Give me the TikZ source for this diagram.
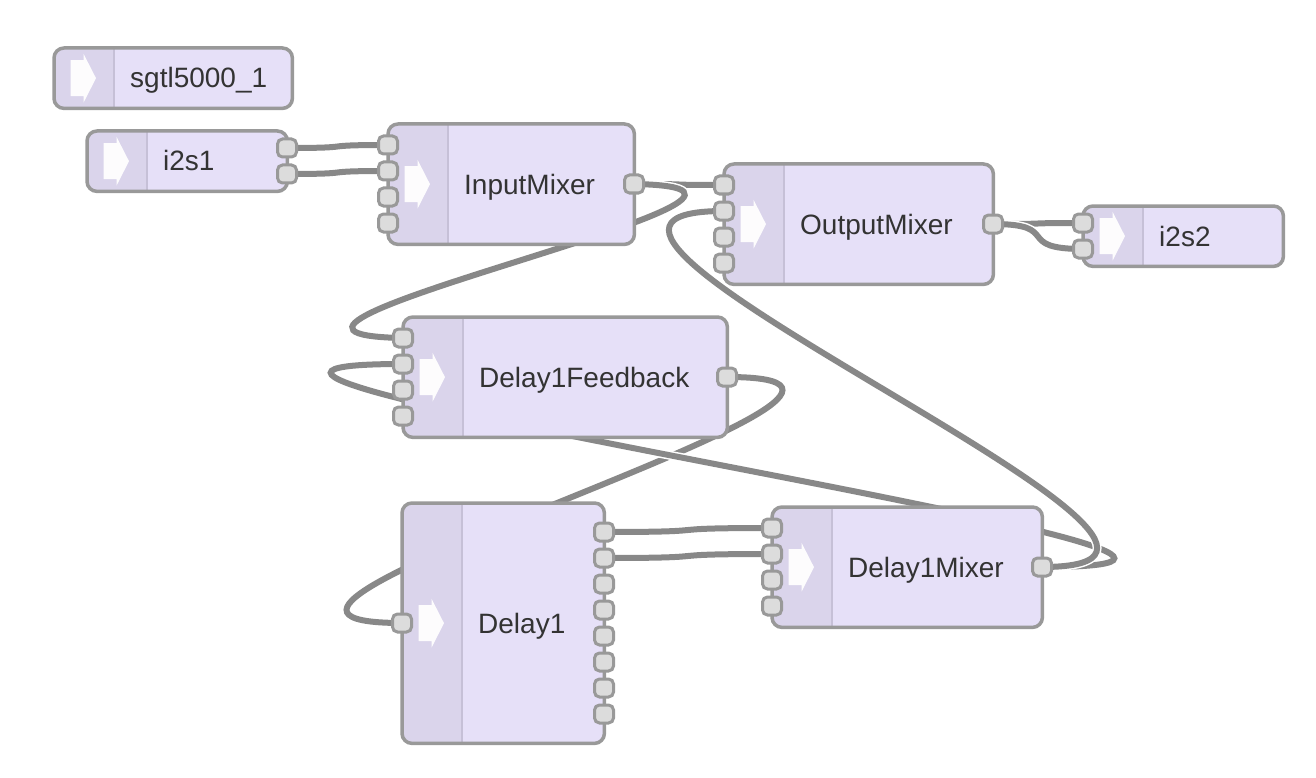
\documentclass[tikz,border=0pt]{standalone}
\usepackage{fontspec}
\setmainfont{Liberation Sans}
\usetikzlibrary{calc}
\definecolor{boxfill}{HTML}{E6E0F8}
\definecolor{shadefill}{HTML}{DAD4EB}
\definecolor{shadeline}{HTML}{C6C0D7}
\definecolor{boxline}{HTML}{999999}
\definecolor{portfill}{HTML}{DCDCDC}
\definecolor{wirecol}{HTML}{888888}
\definecolor{labeltext}{HTML}{333333}
\pgfdeclarelayer{bg}
\pgfdeclarelayer{wires}
\pgfsetlayers{bg,wires,main}
\tikzset{
  modbox/.style={rectangle, rounded corners=10pt, fill=boxfill, inner sep=0pt, anchor=north west},
  modborder/.style={draw=boxline, line width=3.5pt, rounded corners=10pt},
  port/.style={rectangle, rounded corners=5pt, fill=portfill, draw=boxline, line width=3pt,
    minimum width=19pt, minimum height=18pt, inner sep=0pt},
  modlabel/.style={anchor=base west, inner sep=0pt, text=labeltext, font=\fontsize{28}{32}\selectfont},
  wirecase/.style={draw=white, line width=9pt},
  wireline/.style={draw=wirecol, line width=6pt},
}
\newcommand{\amod}[6]{%
  \node[modbox, minimum width=#4pt, minimum height=#5pt] (#1) at (#2,#3) {};
  \begin{scope}
    \clip[rounded corners=10pt] (#1.north west) rectangle (#1.south east);
    \fill[shadefill] (#1.north west) rectangle ([xshift=60pt]#1.south west);
  \end{scope}
  \draw[shadeline, line width=2pt] ([xshift=60pt]#1.north west) -- ([xshift=60pt]#1.south west);
  \draw[modborder] (#1.north west) rectangle (#1.south east);
  \fill[white, opacity=0.95] ($(#1.west)+(16.5,-18)$) -- ++(13,0) -- ++(0,-6.5) -- ++(12.5,24.5)
     -- ++(-12.5,24.5) -- ++(0,-6.5) -- ++(-13,0) -- cycle;
  \node[modlabel] (#1-l) at ($(#1.west)+(76,9.8)$) {#6};
}
\newcommand{\wire}[4]{%
  \draw[wirecase] (#1.center) .. controls +(#3,#4) and +(-#3,-#4) .. (#2.center);
  \draw[wireline] (#1.center) .. controls +(#3,#4) and +(-#3,-#4) .. (#2.center);
}
\begin{document}
\begin{tikzpicture}[x=1pt,y=-1pt]
\useasboundingbox (0,0) rectangle (1316,778);
\begin{pgfonlayer}{bg}
  \fill[white] (0,0) rectangle (1316,778);
\end{pgfonlayer}

% modules
\amod{sgtl}{54}{48}{238}{60}{sgtl5000\_1}
\amod{isa}{87}{131}{200}{60}{i2s1}
\amod{inmix}{388}{124}{246}{120}{InputMixer}
\amod{outmix}{724}{164}{269}{120}{OutputMixer}
\amod{isb}{1083}{206}{200}{60}{i2s2}
\amod{fb}{403}{317}{324}{120}{Delay1Feedback}
\amod{dly}{402}{503}{202}{240}{Delay1}
\amod{dmix}{772}{507}{270}{120}{Delay1Mixer}

% ports
\node[port] (isa-o0) at (287,148) {};
\node[port] (isa-o1) at (287,174) {};

\node[port] (inmix-i0) at (388,145) {};
\node[port] (inmix-i1) at (388,171) {};
\node[port] (inmix-i2) at (388,197) {};
\node[port] (inmix-i3) at (388,223) {};
\node[port] (inmix-o0) at (634,184) {};

\node[port] (outmix-i0) at (724,185) {};
\node[port] (outmix-i1) at (724,211) {};
\node[port] (outmix-i2) at (724,237) {};
\node[port] (outmix-i3) at (724,263) {};
\node[port] (outmix-o0) at (993,224) {};

\node[port] (isb-i0) at (1083,223) {};
\node[port] (isb-i1) at (1083,249) {};

\node[port] (fb-i0) at (403,338) {};
\node[port] (fb-i1) at (403,364) {};
\node[port] (fb-i2) at (403,390) {};
\node[port] (fb-i3) at (403,416) {};
\node[port] (fb-o0) at (727,377) {};

\node[port] (dly-i0) at (402,623) {};
\node[port] (dly-o0) at (604,532) {};
\node[port] (dly-o1) at (604,558) {};
\node[port] (dly-o2) at (604,584) {};
\node[port] (dly-o3) at (604,610) {};
\node[port] (dly-o4) at (604,636) {};
\node[port] (dly-o5) at (604,662) {};
\node[port] (dly-o6) at (604,688) {};
\node[port] (dly-o7) at (604,714) {};

\node[port] (dmix-i0) at (772,528) {};
\node[port] (dmix-i1) at (772,554) {};
\node[port] (dmix-i2) at (772,580) {};
\node[port] (dmix-i3) at (772,606) {};
\node[port] (dmix-o0) at (1042,567) {};

% wires
\begin{pgfonlayer}{wires}
  \wire{isa-o0}{inmix-i0}{75.8}{0}
  \wire{isa-o1}{inmix-i1}{75.8}{0}
  \wire{inmix-o0}{outmix-i0}{67.5}{0}
  \wire{inmix-o0}{fb-i0}{242.4}{4.33}
  \wire{fb-o0}{dly-i0}{280}{0}
  \wire{dly-o0}{dmix-i0}{126}{0}
  \wire{dly-o1}{dmix-i1}{126}{0}
  \wire{dmix-o0}{fb-i1}{405.6}{0}
  \wire{dmix-o0}{outmix-i1}{277.2}{0}
  \wire{outmix-o0}{isb-i0}{67.5}{0}
  \wire{outmix-o0}{isb-i1}{70}{0}
\end{pgfonlayer}
\end{tikzpicture}
\end{document}
